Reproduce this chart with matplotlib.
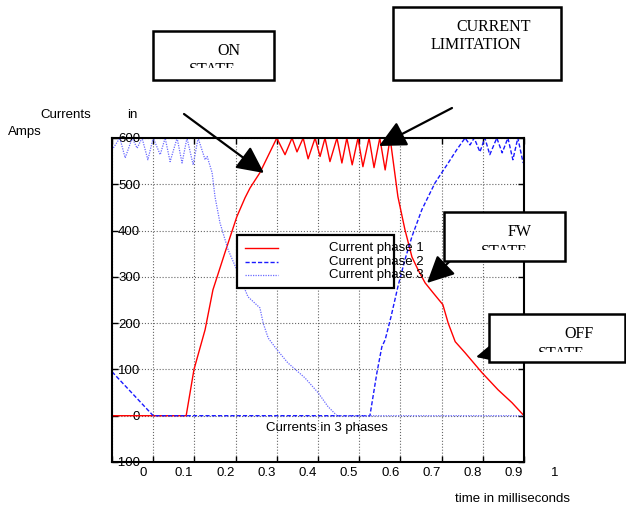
import matplotlib
matplotlib.use('Agg')
import matplotlib.pyplot as plt
from matplotlib.patches import Rectangle
from matplotlib.transforms import ScaledTranslation, Bbox, TransformedBbox

plt.rcParams['font.family'] = ['Liberation Sans', 'DejaVu Sans']

# time in ms / current in A
t_phase1 = [0, 0.18, 0.199, 0.226, 0.245, 0.274, 0.303, 0.323, 0.335, 0.359,
            0.40, 0.42, 0.437, 0.449, 0.464, 0.476, 0.493, 0.505, 0.517, 0.529,
            0.546, 0.558, 0.570, 0.583, 0.597, 0.609, 0.624, 0.636, 0.650, 0.663,
            0.675, 0.694, 0.711, 0.728, 0.743, 0.760, 0.779, 0.803, 0.816, 0.833,
            0.857, 0.898, 0.937, 0.971, 1.0]
i_phase1 = [0, 0, 100, 186, 272, 352, 430, 471, 492, 525,
            600, 564, 600, 570, 600, 555, 600, 560, 600, 549,
            600, 546, 600, 542, 600, 538, 600, 536, 600, 531,
            600, 473, 402, 343, 315, 287, 266, 240, 200, 160,
            136, 93, 56, 28, 0]

t_phase2 = [0, 0.1, 0.626, 0.643, 0.655, 0.663, 0.677, 0.694, 0.711, 0.728,
            0.752, 0.784, 0.816, 0.837, 0.857, 0.869, 0.879, 0.893, 0.905, 0.917,
            0.934, 0.947, 0.961, 0.973, 0.985, 0.998]
i_phase2 = [95, 0, 0, 93, 149, 164, 213, 279, 337, 387,
            445, 503, 546, 575, 600, 585, 600, 570, 600, 564,
            600, 568, 600, 553, 600, 546]

t_phase3 = [0, 0.019, 0.032, 0.049, 0.061, 0.073, 0.087, 0.100, 0.117, 0.129,
            0.141, 0.158, 0.170, 0.182, 0.197, 0.209, 0.226, 0.231, 0.243, 0.25,
            0.262, 0.282, 0.303, 0.330, 0.359, 0.367, 0.379, 0.40, 0.427, 0.468,
            0.50, 0.524, 0.546, 1.0]
i_phase3 = [574, 600, 557, 600, 578, 600, 553, 600, 564, 600,
            549, 600, 546, 600, 542, 600, 553, 560, 525, 473,
            417, 358, 315, 257, 233, 200, 168, 143, 114, 82,
            50, 20, 0, 0]

series_labels = ['Current phase 1', 'Current phase 2', 'Current phase 3']
x_ticks = [0, 0.1, 0.2, 0.3, 0.4, 0.5, 0.6, 0.7, 0.8, 0.9, 1]
x_ticklabels = ['0', '0.1', '0.2', '0.3', '0.4', '0.5', '0.6', '0.7', '0.8', '0.9', '1']
y_ticks = [-100, 0, 100, 200, 300, 400, 500, 600]

styles = [dict(color='#ff0000', linestyle='-', linewidth=1.0),
          dict(color='#1a1aff', linestyle=(0, (3, 1.5)), linewidth=1.0),
          dict(color='#6a6aff', linestyle=(0, (1, 1)), linewidth=0.9)]

W, H = 626, 508
fig = plt.figure(figsize=(W / 100, H / 100), dpi=100)
ax = fig.add_axes([112 / W, 46 / H, 412 / W, 324 / H])

ax.plot(t_phase1, i_phase1, **styles[0])
ax.plot(t_phase2, i_phase2, **styles[1])
ax.plot(t_phase3, i_phase3, **styles[2])

ax.set_xlim(0, 1)
ax.set_ylim(-100, 600)
ax.set_xticks(x_ticks)
ax.set_xticklabels(x_ticklabels)
ax.set_yticks(y_ticks)
ax.grid(True, linestyle=':', color='#666666', linewidth=0.8)
ax.tick_params(direction='in', top=True, right=True, length=4, labelsize=9.5, width=1)
for sp in ax.spines.values():
    sp.set_linewidth(1.5)

# tick labels in the original sit ~31 px to the right of their ticks
for lab in ax.get_xticklabels():
    lab.set_transform(lab.get_transform() + ScaledTranslation(0.31, 0, fig.dpi_scale_trans))
for lab in ax.get_yticklabels():
    lab.set_transform(lab.get_transform() + ScaledTranslation(0.33, 0, fig.dpi_scale_trans))

# overlay in pixel coordinates for the annotations
ov = fig.add_axes([0, 0, 1, 1], zorder=10)
ov.set_xlim(0, W)
ov.set_ylim(H, 0)
ov.axis('off')

ov.text(40, 115, 'Currents', fontsize=9.5, va='center')
ov.text(127, 115, 'in', fontsize=9.5, va='center')
ov.text(8, 132, 'Amps', fontsize=9.5, va='center')
ov.text(327, 428, 'Currents in 3 phases', fontsize=9.5, va='center', ha='center')
ov.text(455, 499, 'time in milliseconds', fontsize=9.5, va='center')

# legend drawn by hand (text spills past the frame in the original)
ov.add_patch(Rectangle((237, 235), 157, 53, facecolor='white', edgecolor='black', lw=1.6, zorder=2))
for k, (lbl, st) in enumerate(zip(series_labels, styles)):
    yy = 248 + k * 13.5
    ov.plot([245, 278], [yy, yy], zorder=3, **st)
    ov.text(329, yy, lbl, fontsize=9.5, va='center', zorder=3)

arrow = dict(arrowstyle='-|>,head_length=0.55,head_width=0.27', mutation_scale=30,
             color='black', lw=1.6, shrinkA=0, shrinkB=0)
for tail, head in [((184, 114), (264, 173)), ((452, 108), (379, 146)),
                   ((450, 261), (427, 283)), ((496, 352), (476, 357))]:
    ov.annotate('', xy=head, xytext=tail, arrowprops=arrow, zorder=4)

serif = ['Liberation Serif', 'DejaVu Serif']


def state_box(x0, y0, x1, y1, title, tx, ty, sx, sy, clip_y):
    ov.add_patch(Rectangle((x0, y0), x1 - x0, y1 - y0, facecolor='white',
                           edgecolor='black', lw=1.8, zorder=5))
    ov.text(tx, ty, title, family=serif, fontsize=11.5, va='center', zorder=6)
    if sx is not None:
        t = ov.text(sx, sy, 'STATE', family=serif, fontsize=11.5, va='center', zorder=6)
        # second line is cut off in the original
        box = Bbox.from_extents(x0 / W, (H - clip_y) / H, x1 / W, (H - y0) / H)
        t.set_clip_box(TransformedBbox(box, fig.transFigure))
        t.set_clip_on(True)


state_box(153, 31, 274, 80, 'ON', 217, 51, 189, 70, 68)
state_box(393, 7, 561, 80, 'CURRENT', 456, 27, None, None, None)
ov.text(431, 45, 'LIMITATION', family=serif, fontsize=11.5, va='center', zorder=6)
state_box(444, 212, 565, 261, 'FW', 508, 232, 481, 252, 250)
state_box(489, 314, 625, 362, 'OFF', 564, 334, 538, 354, 352)

fig.savefig('out.png', dpi=100)
